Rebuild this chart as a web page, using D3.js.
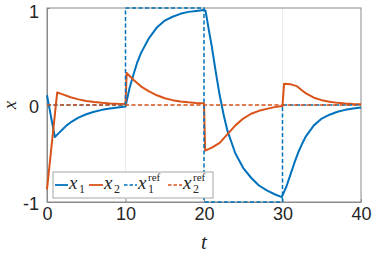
<!DOCTYPE html>
<html>
<head>
<meta charset="utf-8">
<script src="https://cdn.jsdelivr.net/npm/d3@7"></script>
<style>
body{margin:0;background:#fff;}
</style>
</head>
<body>
<svg id="chart" width="374" height="253"></svg>
<script>
// state x1 (blue)
const x1T = [0,0.3,0.6,1.0,1.5,2,2.5,3,4,5,6,7,8,9,10,
  10.5,11,11.5,12,13,14,15,16,17,18,19,20,20.2,
  20.6,21,21.5,22,22.5,23,24,25,26,27,28,29,29.9,
  30.5,31,31.5,32,32.5,33,34,35,36,37,38,39,40];
const x1Vals = [0.1,-0.03,-0.16,-0.33,-0.29,-0.25,-0.21,-0.18,-0.13,-0.095,-0.07,-0.05,-0.035,-0.025,-0.015,
  0.17,0.31,0.44,0.54,0.69,0.8,0.87,0.91,0.94,0.96,0.97,0.98,0.97,
  0.78,0.6,0.34,0.1,-0.1,-0.27,-0.5,-0.65,-0.75,-0.83,-0.88,-0.92,-0.95,
  -0.84,-0.72,-0.6,-0.49,-0.4,-0.32,-0.21,-0.14,-0.1,-0.07,-0.05,-0.035,-0.025];

// state x2 (orange)
const x2T = [0,1.3,2,3,4,5,6,7,8,9,10,10.15,11,12,13,14,15,16,17,18,19,20,
  20.15,21,22,23,24,25,26,27,28,29,30,30.2,31,31.8,32.5,33,34,35,36,37,38,39,40];
const x2Vals = [-0.87,0.13,0.11,0.08,0.058,0.042,0.03,0.022,0.016,0.012,0.01,0.33,0.26,0.19,0.14,0.1,0.07,0.05,0.037,0.028,0.021,0.017,
  -0.47,-0.44,-0.39,-0.3,-0.21,-0.14,-0.09,-0.06,-0.04,-0.022,-0.01,0.22,0.215,0.195,0.15,0.12,0.075,0.05,0.033,0.022,0.015,0.01,0.008];

// references
const refT = [0,10,10,20,20,30,30,40];
const x1Ref = [0,0,1,1,-1,-1,0,0];
const x2RefT = [0,40];
const x2Ref = [0,0];

const xTicks = [0,10,20,30,40];
const yTicks = [-1,0,1];

const BLUE = "#0072BD", ORANGE = "#D95319";
const AXIS = "#8a8a8a", TXT = "#262626";
const SERIF = "'Liberation Serif', 'DejaVu Serif', serif";

const svg = d3.select("#chart");
const xScale = d3.scaleLinear().domain([0,40]).range([47,361]);
const yScale = d3.scaleLinear().domain([-1,1]).range([202,8]);

// grid
svg.append("g").selectAll("line").data(xTicks.slice(1,-1)).join("line")
  .attr("x1",d=>xScale(d)).attr("x2",d=>xScale(d))
  .attr("y1",yScale(1)).attr("y2",yScale(-1))
  .attr("stroke","#ededed").attr("stroke-width",1);
svg.append("g").selectAll("line").data([0]).join("line")
  .attr("x1",xScale(0)).attr("x2",xScale(40))
  .attr("y1",d=>yScale(d)).attr("y2",d=>yScale(d))
  .attr("stroke","#ededed").attr("stroke-width",1);

// axes
const xAxis = svg.append("g").attr("transform","translate(0,"+yScale(-1)+")")
  .call(d3.axisBottom(xScale).tickValues(xTicks).tickSizeInner(-3).tickSizeOuter(0).tickPadding(5).tickFormat(d=>String(d)));
const yAxis = svg.append("g").attr("transform","translate("+xScale(0)+",0)")
  .call(d3.axisLeft(yScale).tickValues(yTicks).tickSizeInner(-3).tickSizeOuter(0).tickPadding(8).tickFormat(d=>String(d)));
[xAxis,yAxis].forEach(a=>{
  a.selectAll("path,line").attr("stroke",AXIS);
  a.selectAll("text").attr("fill",TXT).style("font-family","'Liberation Sans', Arial, sans-serif").style("font-size","18px");
});
yAxis.selectAll("text").attr("dy",d=>d===1?"0.52em":"0.4em");
// box top/right
svg.append("rect").attr("x",xScale(0)).attr("y",yScale(1))
  .attr("width",xScale(40)-xScale(0)).attr("height",yScale(-1)-yScale(1))
  .attr("fill","none").attr("stroke",AXIS).attr("stroke-width",1);

const line = d3.line().x(d=>xScale(d[0])).y(d=>yScale(d[1]));

svg.append("path").datum(d3.zip(x1T,x1Vals)).attr("d",line)
  .attr("fill","none").attr("stroke",BLUE).attr("stroke-width",2).attr("stroke-linejoin","round");
svg.append("path").datum(d3.zip(x2T,x2Vals)).attr("d",line)
  .attr("fill","none").attr("stroke",ORANGE).attr("stroke-width",2).attr("stroke-linejoin","round");
svg.append("path").datum(d3.zip(refT,x1Ref)).attr("d",line)
  .attr("fill","none").attr("stroke",BLUE).attr("stroke-width",1.5).attr("stroke-dasharray","4,2.5");
svg.append("path").datum(d3.zip(x2RefT,x2Ref)).attr("d",line)
  .attr("fill","none").attr("stroke",ORANGE).attr("stroke-width",1.4).attr("stroke-dasharray","4,2.5");

// axis labels
svg.append("text").attr("x",xScale(20)).attr("y",249).attr("text-anchor","middle")
  .style("font-family",SERIF).style("font-style","italic").style("font-size","21px")
  .attr("fill",TXT).text("t");
svg.append("text").attr("transform","translate(16,"+yScale(0)+") rotate(-90)").attr("text-anchor","middle")
  .style("font-family",SERIF).style("font-style","italic").style("font-size","19px")
  .attr("fill",TXT).text("x");

// legend
const legend = svg.append("g");
legend.append("rect").attr("x",53).attr("y",172).attr("width",160).attr("height",26)
  .attr("fill","#fff").attr("stroke","#a6a6a6").attr("stroke-width",1);
const entries = [
  {color:BLUE, dash:null, x0:55, x1:68, sub:"1", sup:null, w:1.8},
  {color:ORANGE, dash:null, x0:89, x1:103, sub:"2", sup:null, w:1.8},
  {color:BLUE, dash:"3.5,2", x0:124, x1:137, sub:"1", sup:"ref", w:1.4},
  {color:ORANGE, dash:"3.5,2", x0:168, x1:182, sub:"2", sup:"ref", w:1.4}
];
entries.forEach(e=>{
  legend.append("line").attr("x1",e.x0).attr("x2",e.x1).attr("y1",185).attr("y2",185)
    .attr("stroke",e.color).attr("stroke-width",e.w).attr("stroke-dasharray",e.dash);
  legend.append("text").attr("x",e.x1+1).attr("y",189)
    .style("font-family",SERIF).style("font-style","italic").style("font-size","19px")
    .attr("fill",TXT).text("x");
  legend.append("text").attr("x",e.x1+11).attr("y",193)
    .style("font-family",SERIF).style("font-size","12px")
    .attr("fill",TXT).text(e.sub);
  if(e.sup){
    legend.append("text").attr("x",e.x1+11).attr("y",181)
      .style("font-family",SERIF).style("font-size","11px")
      .attr("fill",TXT).text(e.sup);
  }
});
</script>
</body>
</html>
